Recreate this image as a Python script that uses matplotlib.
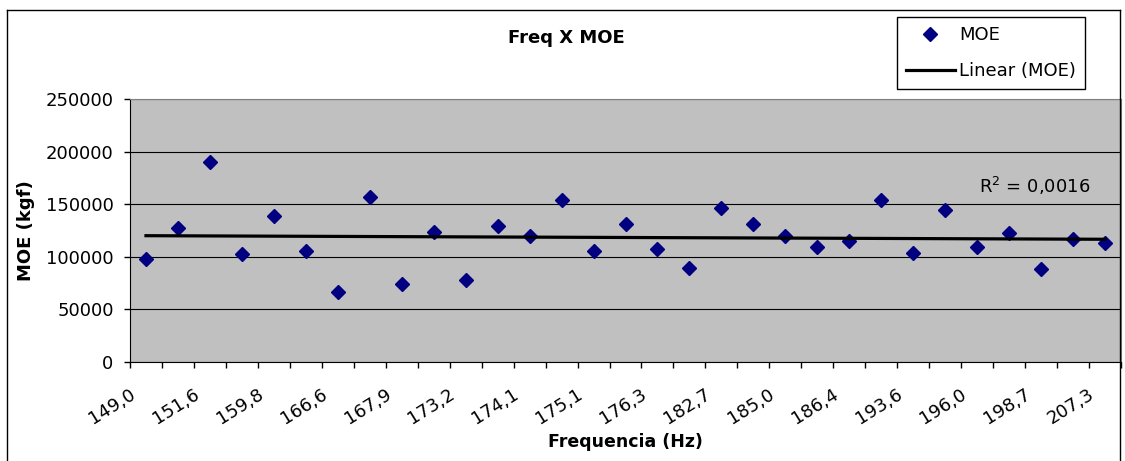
import numpy as np
from matplotlib import pyplot as plt
from matplotlib.lines import Line2D
from matplotlib.transforms import ScaledTranslation

# frequency labels shown on the axis (every second category)
freq_labels = ["149,0", "151,6", "159,8", "166,6", "167,9", "173,2", "174,1", "175,1",
               "176,3", "182,7", "185,0", "186,4", "193,6", "196,0", "198,7", "207,3"]

# MOE (kgf) for each of the 31 samples
moe = [98000, 127500, 190300, 103100, 138600, 105300, 66300, 157000, 73900, 123700,
       77700, 129400, 119900, 153900, 105300, 131300, 107200, 88900, 146200, 131300,
       119900, 109100, 114600, 153600, 103400, 144300, 109400, 122200, 88500, 116800,
       112700]

yticks = [0, 50000, 100000, 150000, 200000, 250000]
r2_text = "R$^2$ = 0,0016"

plt.rcParams['font.family'] = ['DejaVu Sans']

W, H = 1125, 461
fig = plt.figure(figsize=(W / 100, H / 100), dpi=100)
ax = fig.add_axes([130 / W, 1 - 362 / H, (1121 - 130) / W, (362 - 99) / H])
ax.set_facecolor('#c0c0c0')

x = np.arange(len(moe))
ax.plot(x, moe, linestyle='none', marker='D', markersize=7.5,
        color='#000080', label='MOE', zorder=3)

# linear trendline
slope, icpt = np.polyfit(x, moe, 1)
ax.plot(x, slope * x + icpt, color='black', linewidth=2.3, label='Linear (MOE)', zorder=4)

ax.set_xlim(-0.5, len(moe) - 0.5)
ax.set_ylim(0, 250000)
ax.set_yticks(yticks)
ax.set_yticklabels([str(v) for v in yticks], fontsize=13)
ax.yaxis.grid(True, color='black', linewidth=0.8)
ax.set_axisbelow(True)

# tick marks at category borders, labels on every second category
ax.set_xticks(np.arange(-0.5, len(moe), 1.0))
ax.set_xticklabels([])
ax.set_xticks(np.arange(0, len(moe), 2), minor=True)
ax.set_xticklabels(freq_labels, minor=True, fontsize=13, rotation=32,
                   ha='right', va='top', rotation_mode='anchor')
ax.tick_params(axis='x', which='major', direction='out', length=4.3, width=1)
ax.tick_params(axis='x', which='minor', length=0, pad=0)
ax.tick_params(axis='y', direction='out', length=4.3, width=1, pad=7.5)
offset = ScaledTranslation(-17 / 100, -23 / 100, fig.dpi_scale_trans)
for lab in ax.get_xticklabels(minor=True):
    lab.set_transform(lab.get_transform() + offset)

for side in ['top', 'right']:
    ax.spines[side].set_color('#808080')
for side in ['left', 'bottom']:
    ax.spines[side].set_color('black')

ax.set_ylabel("MOE (kgf)", fontsize=13, fontweight='bold')
ax.yaxis.set_label_coords(-0.096, 0.5)
ax.set_xlabel("Frequencia (Hz)", fontsize=12.5, fontweight='bold')
ax.xaxis.set_label_coords(0.4995, -0.27)

ax.text(0.969, 0.669, r2_text, transform=ax.transAxes, ha='right', va='center', fontsize=13)

fig.text(566 / W, 1 - 38 / H, "Freq X MOE", ha='center', va='center',
         fontsize=13, fontweight='bold')

leg = ax.legend(loc='upper left', bbox_to_anchor=(897 / W, 1 - 17 / H),
                bbox_transform=fig.transFigure, fontsize=13, numpoints=1,
                fancybox=False, edgecolor='black', framealpha=1, borderaxespad=0,
                handlelength=2.7, handletextpad=0.25, labelspacing=1.0, borderpad=0.5)
leg.get_frame().set_linewidth(1)

# outer chart border
for xs, ys in [([7 / W, 7 / W], [0, 1 - 10 / H]),
               ([7 / W, 1120 / W], [1 - 10 / H, 1 - 10 / H]),
               ([1120 / W, 1120 / W], [0, 1 - 10 / H])]:
    fig.add_artist(Line2D(xs, ys, color='black', linewidth=1, transform=fig.transFigure))

fig.savefig('out.png', dpi=100)
